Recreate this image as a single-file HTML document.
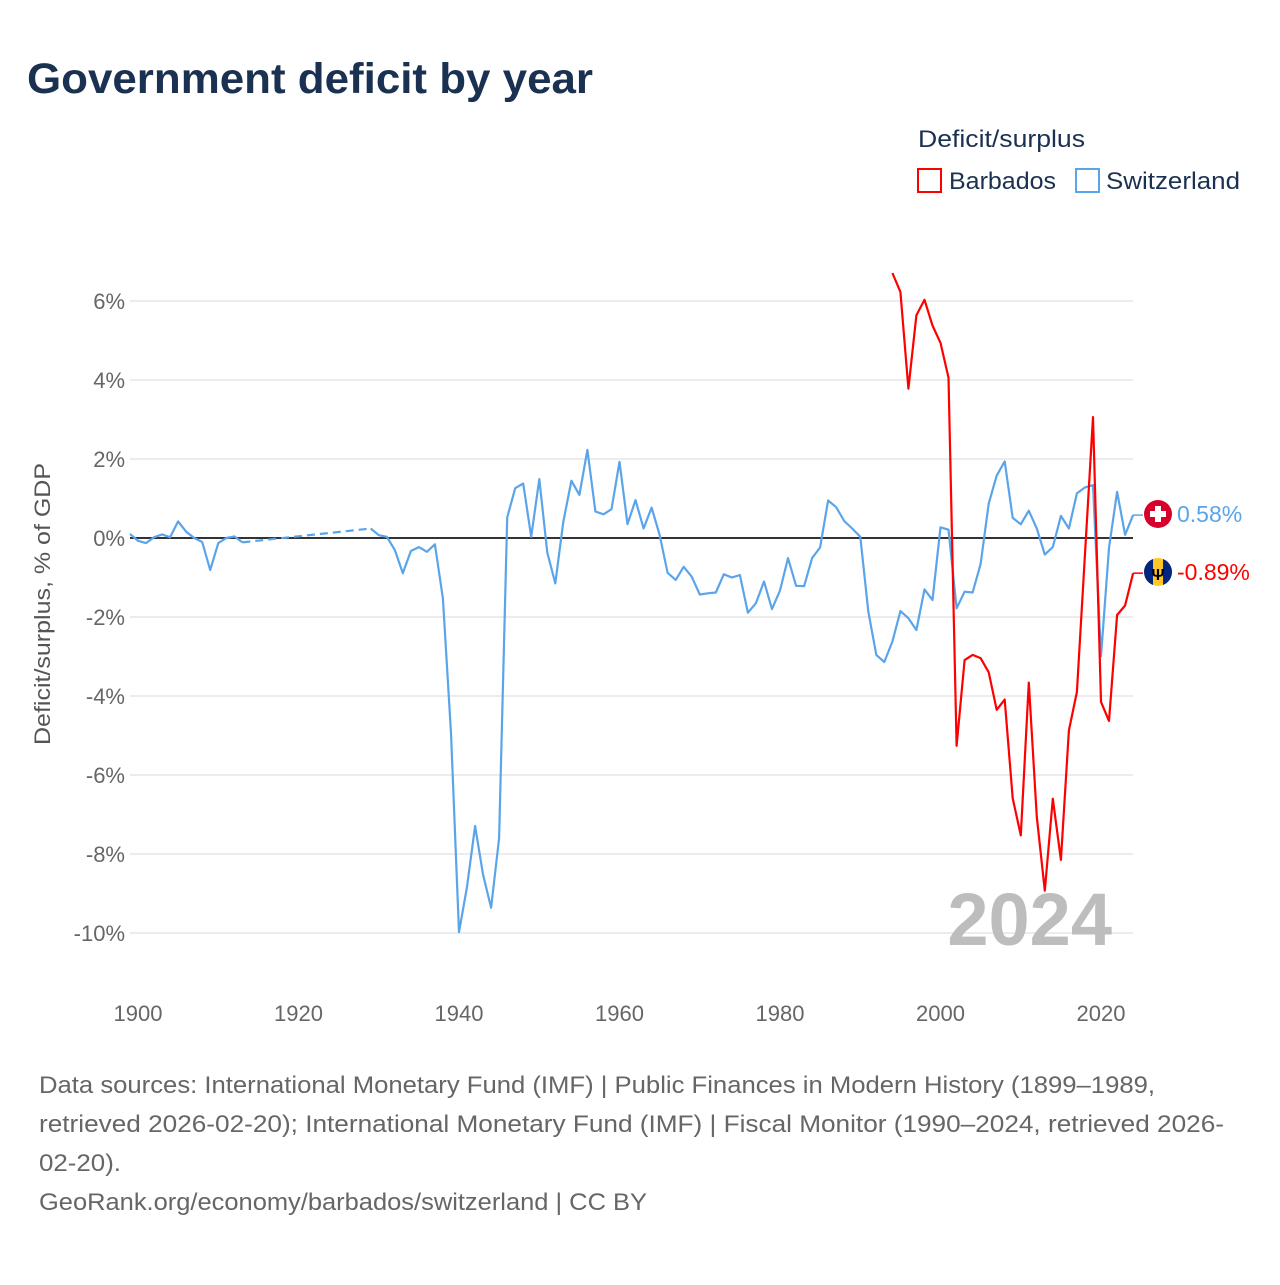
<!DOCTYPE html>
<html><head><meta charset="utf-8"><style>
body{margin:0;background:#fff;font-family:"Liberation Sans",sans-serif}
svg text{font-family:"Liberation Sans",sans-serif}
</style></head><body>
<svg id="chart" width="1280" height="1280" xmlns="http://www.w3.org/2000/svg">
<text x="27" y="93" font-size="43" font-weight="bold" fill="#1b3151" textLength="566" lengthAdjust="spacingAndGlyphs">Government deficit by year</text>
<g>
<text x="918" y="147" font-size="24" fill="#1b3151" textLength="167" lengthAdjust="spacingAndGlyphs">Deficit/surplus</text>
<g><rect x="918" y="169" width="23" height="23" fill="none" stroke="#ff0000" stroke-width="2"/><text x="949" y="189" font-size="24" fill="#1b3151" textLength="107" lengthAdjust="spacingAndGlyphs">Barbados</text></g>
<g><rect x="1076" y="169" width="23" height="23" fill="none" stroke="#5aa5ea" stroke-width="2"/><text x="1106" y="189" font-size="24" fill="#1b3151" textLength="134" lengthAdjust="spacingAndGlyphs">Switzerland</text></g>
</g>
<g id="grid"></g>
<g id="yticks"></g>
<g id="xticks"></g>
<text transform="translate(50,604) rotate(-90)" text-anchor="middle" font-size="22" fill="#555" textLength="282" lengthAdjust="spacingAndGlyphs">Deficit/surplus, % of GDP</text>
<text x="1112" y="945" text-anchor="end" font-size="74" font-weight="bold" fill="#bdbdbd">2024</text>
<g id="series"></g>
<g>
<circle cx="1158" cy="514" r="14" fill="#d8002b"/>
<rect x="1155" y="506" width="6" height="16" fill="#fff"/><rect x="1150" y="511" width="16" height="6" fill="#fff"/>
<text x="1177" y="522" font-size="23" fill="#5aa5ea">0.58%</text>
</g>
<g>
<clipPath id="bc"><circle cx="1158" cy="572" r="14"/></clipPath>
<g clip-path="url(#bc)"><rect x="1144" y="558" width="28" height="28" fill="#ffc726"/><rect x="1144" y="558" width="9" height="28" fill="#00267f"/><rect x="1163" y="558" width="9" height="28" fill="#00267f"/></g>
<text x="1158" y="580" text-anchor="middle" font-size="16" font-weight="bold" fill="#000">Ψ</text>
<text x="1177" y="580" font-size="23" fill="#ff0000">-0.89%</text>
</g>
<g font-size="24" fill="#666">
<text x="39" y="1093" textLength="1116" lengthAdjust="spacingAndGlyphs">Data sources: International Monetary Fund (IMF) | Public Finances in Modern History (1899–1989,</text>
<text x="39" y="1132" textLength="1185" lengthAdjust="spacingAndGlyphs">retrieved 2026-02-20); International Monetary Fund (IMF) | Fiscal Monitor (1990–2024, retrieved 2026-</text>
<text x="39" y="1171" textLength="82" lengthAdjust="spacingAndGlyphs">02-20).</text>
<text x="39" y="1210" textLength="608" lengthAdjust="spacingAndGlyphs">GeoRank.org/economy/barbados/switzerland | CC BY</text>
</g>
</svg>
<script>
const yTicks=[6,4,2,0,-2,-4,-6,-8,-10];
const xTicks=[1900,1920,1940,1960,1980,2000,2020];
const chYearsA=[1899,1900,1901,1902,1903,1904,1905,1906,1907,1908,1909,1910,1911,1912,1913];
const chValsA=[0.1,-0.07,-0.13,0.02,0.09,0.02,0.42,0.16,0,-0.1,-0.81,-0.13,0,0.04,-0.11];
const chStartB=1929;
const chValsB=[0.24,0.07,0.03,-0.3,-0.89,-0.33,-0.23,-0.35,-0.16,-1.53,-4.94,-9.98,-8.83,-7.29,-8.53,-9.36,-7.6,0.52,1.26,1.38,0.03,1.49,
-0.37,-1.15,0.41,1.45,1.09,2.23,0.67,0.6,0.73,1.93,0.35,0.96,0.24,0.77,0.08,-0.88,-1.06,-0.73,-0.98,-1.43,-1.4,-1.38,-0.92,-1.0,-0.94,-1.89,-1.65,-1.1,-1.8,-1.33,-0.51,-1.21,-1.22,-0.51,-0.24,0.95,0.78,0.43,0.24,0.03,
-1.86,-2.96,-3.14,-2.62,-1.85,-2.03,-2.33,-1.3,-1.57,0.27,0.21,-1.78,-1.36,-1.38,-0.66,0.87,1.58,1.94,0.51,0.35,0.69,0.24,-0.42,-0.23,0.56,0.24,1.13,1.28,1.34,-2.99,-0.25,1.17,0.08,0.58];
const bbStart=1994;
const bbVals=[6.71,6.23,3.78,5.64,6.03,5.38,4.94,4.06,-5.26,-3.09,-2.96,-3.04,-3.4,-4.35,-4.09,-6.59,-7.53,-3.66,-7.06,-8.93,-6.6,-8.15,-4.87,-3.9,-0.4,3.06,-4.15,-4.63,-1.95,-1.71,-0.89];
const X=y=>138+(y-1900)*8.025, Y=v=>538-v*39.5;
const NS='http://www.w3.org/2000/svg';
function mk(tag,attrs,parent){const e=document.createElementNS(NS,tag);for(const k in attrs)e.setAttribute(k,attrs[k]);parent.appendChild(e);return e;}
const grid=document.getElementById('grid'),yt=document.getElementById('yticks'),xt=document.getElementById('xticks'),ser=document.getElementById('series');
yTicks.forEach(v=>{
 const l=mk('line',{x1:130,x2:1133,y1:Y(v),y2:Y(v),stroke:'#e6e6e6','stroke-width':1.5},grid);
 
 
 const t=mk('text',{x:125,y:Y(v)+8,'text-anchor':'end','font-size':22,fill:'#666'},yt);t.textContent=v+'%';
 
 
});
xTicks.forEach(y=>{
 const t=mk('text',{x:X(y),y:1021,'text-anchor':'middle','font-size':22,fill:'#666'},xt);t.textContent=y;
 
 
});
const zl=mk('line',{x1:130,x2:1133,y1:Y(0),y2:Y(0),stroke:'#333','stroke-width':2},grid);


const pts=(ys,vs)=>vs.map((v,i)=>X(ys[i]).toFixed(1)+','+Y(v).toFixed(1)).join(' ');
const pa=mk('polyline',{points:pts(chYearsA,chValsA),fill:'none',stroke:'#5aa5ea','stroke-width':2.2,'stroke-linejoin':'round'},ser);


const la=chYearsA.length-1;
const gap=mk('line',{x1:X(chYearsA[la]),y1:Y(chValsA[la]),x2:X(chStartB),y2:Y(chValsB[0]),stroke:'#5aa5ea','stroke-width':2.2,'stroke-dasharray':'8,5'},ser);


const pb=mk('polyline',{points:pts(chValsB.map((_,i)=>chStartB+i),chValsB),fill:'none',stroke:'#5aa5ea','stroke-width':2.2,'stroke-linejoin':'round'},ser);


const bb=mk('polyline',{points:pts(bbVals.map((_,i)=>bbStart+i),bbVals),fill:'none',stroke:'#ff0000','stroke-width':2.2,'stroke-linejoin':'round'},ser);


const c1=mk('line',{x1:X(2024),y1:Y(chValsB[chValsB.length-1]),x2:1143,y2:Y(chValsB[chValsB.length-1]),stroke:'#5aa5ea','stroke-width':1.5},ser);


const c2=mk('line',{x1:X(2024),y1:Y(bbVals[bbVals.length-1]),x2:1143,y2:Y(bbVals[bbVals.length-1]),stroke:'#ff0000','stroke-width':1.5},ser);


</script>
</body></html>
